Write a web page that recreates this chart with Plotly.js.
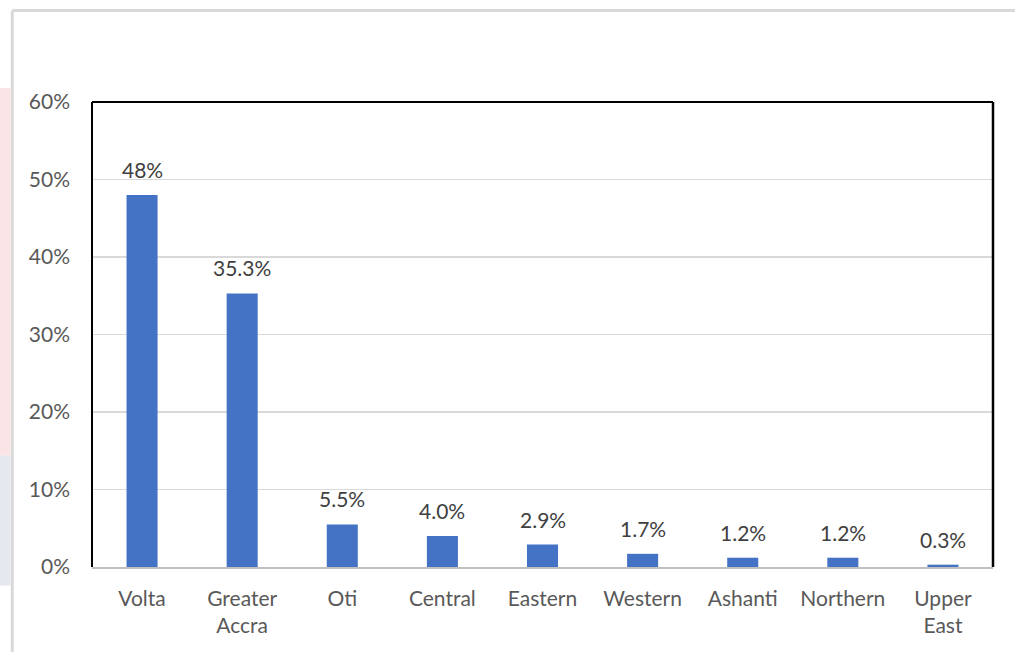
<!DOCTYPE html>
<html>
<head>
<meta charset="utf-8">
<script src="https://cdn.plot.ly/plotly-3.0.1.min.js"></script>
<style>html,body{margin:0;padding:0;background:#fff;}#chart{width:1015px;height:652px;}</style>
</head>
<body>
<div id="chart"></div>
<script>
const regions = ["Volta", "Greater<br>Accra", "Oti", "Central", "Eastern", "Western", "Ashanti", "Northern", "Upper<br>East"];
const shares = [0.48, 0.353, 0.055, 0.040, 0.029, 0.017, 0.012, 0.012, 0.003];
const labels = ["48%", "35.3%", "5.5%", "4.0%", "2.9%", "1.7%", "1.2%", "1.2%", "0.3%"];
const yTicks = [0, 0.1, 0.2, 0.3, 0.4, 0.5, 0.6];
const yTickText = ["0%", "10%", "20%", "30%", "40%", "50%", "60%"];

const FONT = "Lato, 'Open Sans', sans-serif";

const trace = {
  type: "bar",
  x: regions,
  y: shares,
  marker: {color: "#4472C4"},
  hoverinfo: "x+y"
};

const annotations = regions.map((r, i) => ({
  x: r, y: shares[i], xref: "x", yref: "y",
  text: labels[i], showarrow: false,
  yanchor: "bottom", yshift: 11,
  font: {family: FONT, size: 21, color: "#404040"}
}));

const layout = {
  width: 1015, height: 652,
  margin: {l: 92, r: 22, t: 102, b: 85},
  paper_bgcolor: "#ffffff",
  plot_bgcolor: "#ffffff",
  showlegend: false,
  bargap: 0.69,
  xaxis: {
    showgrid: false, zeroline: false,
    showline: true, linecolor: "#bfbfbf", linewidth: 1.5,
    ticks: "", tickfont: {family: FONT, size: 21, color: "#595959"},
    ticklabelstandoff: 12
  },
  yaxis: {
    range: [0, 0.6], tickvals: yTicks, ticktext: yTickText,
    showgrid: true, gridcolor: "#d9d9d9", gridwidth: 1.5,
    zeroline: false, showline: false, ticks: "",
    tickfont: {family: FONT, size: 21, color: "#595959"},
    ticklabelstandoff: 21
  },
  annotations: annotations,
  shapes: [
    {type: "line", xref: "paper", yref: "paper", x0: 0, x1: 0, y0: 0, y1: 1, line: {color: "#000", width: 2}},
    {type: "line", xref: "paper", yref: "paper", x0: 0, x1: 1, y0: 1, y1: 1, line: {color: "#000", width: 2}},
    {type: "line", xref: "paper", yref: "paper", x0: 1, x1: 1, y0: 0, y1: 1, line: {color: "#000", width: 2.5}},
    {type: "line", xref: "paper", yref: "paper", x0: -0.0885, x1: -0.0885, y0: -0.2, y1: 1.197, line: {color: "#d9d9d9", width: 3}, layer: "below"},
    {type: "line", xref: "paper", yref: "paper", x0: -0.0885, x1: 1.03, y0: 1.197, y1: 1.197, line: {color: "#d9d9d9", width: 3}, layer: "below"},
    {type: "rect", xref: "paper", yref: "paper", x0: -0.103, x1: -0.0905, y0: 0.24, y1: 1.03, fillcolor: "#fbe4e6", line: {width: 0}, layer: "below"},
    {type: "rect", xref: "paper", yref: "paper", x0: -0.103, x1: -0.0905, y0: -0.04, y1: 0.24, fillcolor: "#e6e8ef", line: {width: 0}, layer: "below"}
  ]
};

Plotly.newPlot("chart", [trace], layout, {displayModeBar: false, staticPlot: true});
</script>
</body>
</html>
